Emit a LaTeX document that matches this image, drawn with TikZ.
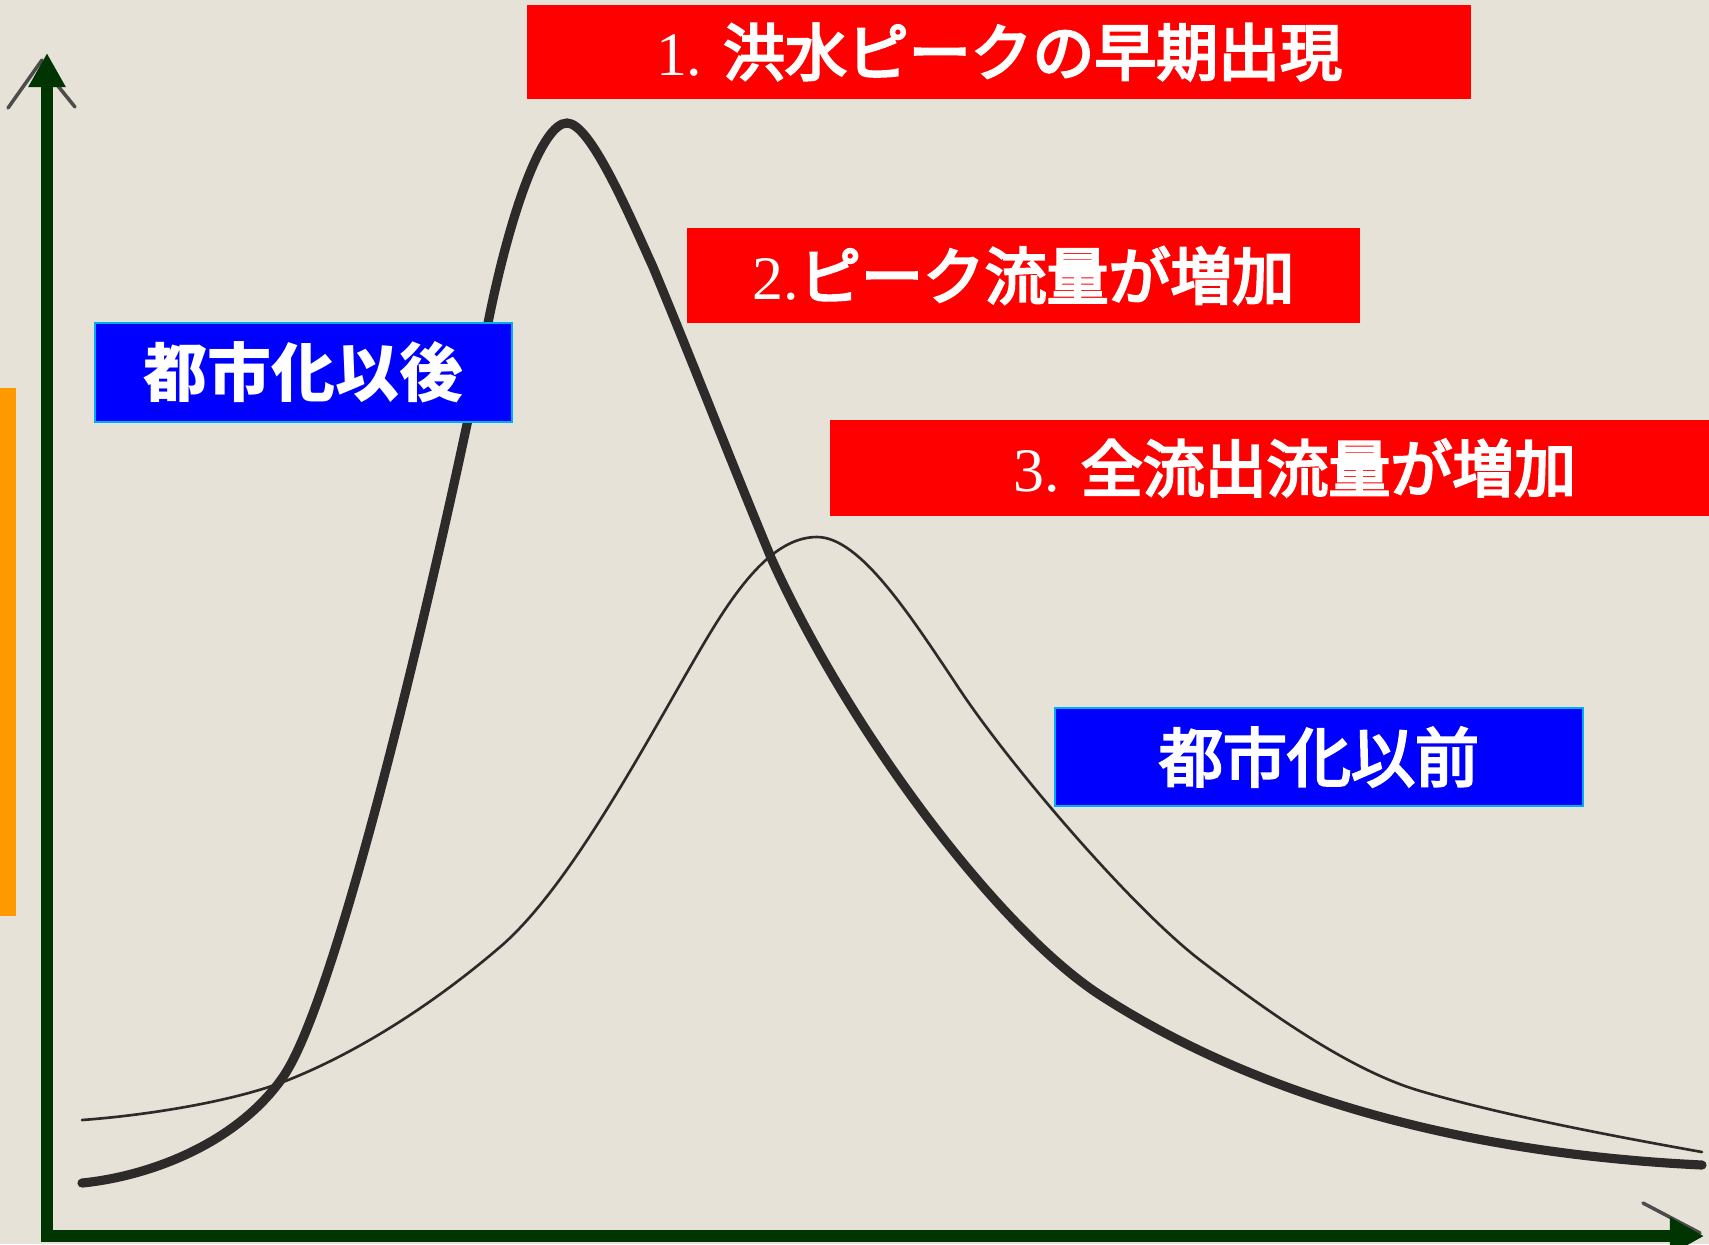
\documentclass[tikz,border=0pt]{standalone}
\usepackage{fontspec}
\setmainfont{Liberation Serif}
\newfontfamily\jp{Noto Sans CJK JP}
\newfontfamily\jpm[FakeBold=4]{Noto Sans CJK JP}
\usetikzlibrary{arrows.meta}
\definecolor{paper}{RGB}{230,226,216}
\definecolor{axisgreen}{RGB}{0,52,0}
\definecolor{barorange}{RGB}{255,153,0}
\definecolor{curvegray}{RGB}{45,42,42}
\tikzset{
  redbox/.style={fill=red, text=white, inner sep=0pt, font=\fontsize{17.6}{20}\selectfont},
  bluebox/.style={fill=blue, draw=cyan, line width=0.7pt, text=white, inner sep=0pt, font=\fontsize{18.2}{21}\selectfont},
  axisline/.style={draw=axisgreen, line width=3.4pt, line join=miter, {Triangle[length=9.7pt,width=10pt]}-{Triangle[length=9.7pt,width=10pt]}},
  pencil/.style={draw=black!70, line width=1pt, line cap=round},
  aftercurve/.style={draw=curvegray, line width=2.6pt, line cap=round},
  beforecurve/.style={draw=curvegray, line width=0.75pt, line cap=round},
}
\begin{document}
\begin{tikzpicture}[x=0.01cm, y=-0.01cm]
\fill[paper] (0,0) rectangle (1709,1244);
\useasboundingbox (0,0) rectangle (1709,1244);
\fill[barorange] (0,388) rectangle (16,916);

% pencil remnants of the scanned axes
\coordinate (pa1) at (8,108); \coordinate (pa2) at (42,60);
\coordinate (pb1) at (58,86); \coordinate (pb2) at (75,107);
\coordinate (pc1) at (1643,1203); \coordinate (pc2) at (1700,1233);
\draw[pencil] (pa1) -- (pa2);
\draw[pencil] (pb1) -- (pb2);
\draw[pencil] (pc1) -- (pc2);

% before urbanisation (thin)
\draw[beforecurve] (82,1120)
  .. controls (150,1115) and (233,1101) .. (283,1082)
  .. controls (353,1055) and (430,1007) .. (500,947)
  .. controls (570,887) and (645,744) .. (700,650)
  .. controls (735,590) and (772,537) .. (817,537)
  .. controls (860,537) and (910,615) .. (960,690)
  .. controls (1010,765) and (1130,906) .. (1200,960)
  .. controls (1260,1006) and (1345,1068) .. (1417,1090)
  .. controls (1497,1114) and (1607,1135) .. (1702,1152);

% after urbanisation (thick)
\draw[aftercurve] (82,1183)
  .. controls (152,1176) and (238,1142) .. (283,1077)
  .. controls (340,995) and (443,548) .. (488,323)
  .. controls (510,213) and (542,123) .. (567,123)
  .. controls (590,123) and (628,212) .. (653,267)
  .. controls (693,363) and (732,464) .. (772,560)
  .. controls (852,736) and (1000,930) .. (1100,995)
  .. controls (1250,1092) and (1452,1153) .. (1702,1165);

% axes
\coordinate (ytop) at (47,53);
\coordinate (O) at (47,1236);
\coordinate (xend) at (1704,1236);
\draw[axisline] (ytop) -- (O) -- (xend);

% labels
\node[redbox, minimum width=9.44cm, minimum height=0.94cm] (l1) at (999,52)
  {1. {\jpm 洪水ピークの早期出現}};
\node[redbox, minimum width=6.73cm, minimum height=0.95cm] (l2) at (1023.5,275.5)
  {2.{\jpm ピーク流量が増加}};
\node[redbox, minimum width=9.30cm, minimum height=0.96cm] (l3) at (1295,468)
  {3. {\jpm 全流出流量が増加}};
\node[bluebox, minimum width=4.17cm, minimum height=0.99cm] (after) at (303.5,372.5) {\jp\bfseries 都市化以後};
\node[bluebox, minimum width=5.28cm, minimum height=0.98cm] (before) at (1319,757) {\jpm 都市化以前};
\end{tikzpicture}
\end{document}
